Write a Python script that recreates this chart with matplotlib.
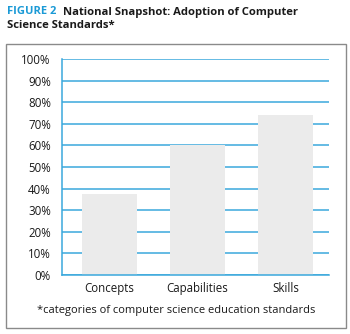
import matplotlib
matplotlib.use("Agg")
import matplotlib.pyplot as plt
from matplotlib.patches import Rectangle

categories = ["Concepts", "Capabilities", "Skills"]
adoption = [37.5, 60, 74]
y_ticks = list(range(0, 101, 10))
y_labels = [f"{t}%" for t in y_ticks]

BLUE = "#3aa8dc"
BAR = "#ebebeb"
W, H = 350, 334

plt.rcParams["font.family"] = ["Open Sans", "DejaVu Sans"]

fig = plt.figure(figsize=(W / 100, H / 100), dpi=100)

# outer frame
fig.patches.append(Rectangle((6 / W, 1 - 328 / H), 340 / W, 284 / H,
                             transform=fig.transFigure, fill=False,
                             edgecolor="#8a8a8a", linewidth=1.0))

# title
fig.text(7 / W, 1 - 12 / H, "FIGURE 2", color="#1b9ad6", fontsize=8.0,
         fontweight="bold", va="center", ha="left")
fig.text(63 / W, 1 - 12 / H, "National Snapshot: Adoption of Computer",
         color="#1a1a1a", fontsize=8.15, fontweight="bold", va="center", ha="left")
fig.text(7 / W, 1 - 26 / H, "Science Standards*", color="#1a1a1a",
         fontsize=8.15, fontweight="bold", va="center", ha="left")

ax = fig.add_axes([62 / W, 1 - 275 / H, 267 / W, 216 / H])
x = list(range(len(categories)))
ax.bar(x, adoption, width=0.625, color=BAR, zorder=2)
ax.set_ylim(0, 100)
ax.set_xlim(-0.54, 2.494)
ax.set_yticks(y_ticks)
ax.set_yticklabels(y_labels)
ax.set_xticks(x)
ax.set_xticklabels(categories)
ax.yaxis.grid(True, color=BLUE, linewidth=1.1, zorder=1)
ax.set_axisbelow(True)
for side in ["top", "right"]:
    ax.spines[side].set_visible(False)
for side in ["left", "bottom"]:
    ax.spines[side].set_color(BLUE)
    ax.spines[side].set_linewidth(1.1)
ax.tick_params(axis="both", length=0, labelsize=8.3, colors="#1a1a1a")
ax.tick_params(axis="y", pad=8)
ax.tick_params(axis="x", pad=5)

fig.text(176 / W, 1 - 311 / H, "*categories of computer science education standards",
         fontsize=8.0, ha="center", va="center", color="#1a1a1a")

fig.savefig("out.png", dpi=100)
